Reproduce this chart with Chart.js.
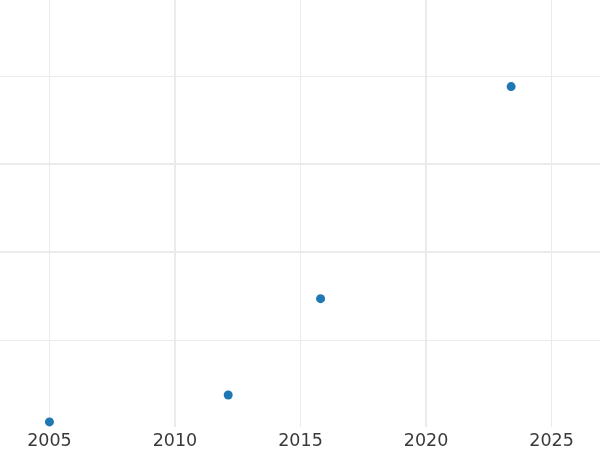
<!DOCTYPE html>
<html>
<head>
<meta charset="utf-8">
<script src="https://cdn.jsdelivr.net/npm/chart.js@4/dist/chart.umd.min.js"></script>
<style>
	html, body { margin: 0; padding: 0; background: #ffffff; }
	#chart { display: block; }
</style>
</head>
<body>
<canvas id="chart" width="600" height="450"></canvas>
<script>
// data (y in grid units, one unit per minor line)
const years = [2005.0, 2012.12, 2015.8, 2023.39];
const values = [0.07, 0.375, 1.47, 3.88];

// x ticks and which of them get the heavier grid line
const xTicks = [2005, 2010, 2015, 2020, 2025];
const xMajor = [2010, 2020];
const xRange = [2003.03, 2026.93];

// y grid lines (no labels shown)
const yTicks = [1, 2, 3, 4];
const yMajor = [2, 3];
const yRange = [0.012, 4.864];

const GRID = '#ebebeb';

function gridWidth(majors) {
	return function(ctx) {
		if (!ctx.tick) {
			return 0;
		}
		return majors.indexOf(ctx.tick.value) >= 0 ? 2 : 1;
	};
}

function keepTicks(list) {
	return function(scale) {
		scale.ticks = list.map(function(v) {
			return {value: v};
		});
	};
}

function noPadding(scale) {
	scale.paddingLeft = 0;
	scale.paddingRight = 0;
	scale.paddingTop = 0;
	scale.paddingBottom = 0;
}

const points = years.map(function(x, i) {
	return {x: x, y: values[i]};
});

new Chart(document.getElementById('chart').getContext('2d'), {
	type: 'scatter',
	data: {
		datasets: [{
			data: points,
			backgroundColor: '#1f77b4',
			borderWidth: 0,
			pointRadius: 4.5,
			pointHoverRadius: 4.5
		}]
	},
	options: {
		responsive: false,
		animation: false,
		layout: {padding: 0, autoPadding: false},
		plugins: {
			legend: {display: false},
			tooltip: {enabled: false}
		},
		scales: {
			x: {
				type: 'linear',
				min: xRange[0],
				max: xRange[1],
				afterBuildTicks: keepTicks(xTicks),
				afterFit: function(scale) {
					scale.height = 23;
					noPadding(scale);
				},
				border: {display: false},
				grid: {
					color: GRID,
					lineWidth: gridWidth(xMajor),
					drawTicks: false
				},
				ticks: {
					padding: 4,
					color: '#3a3a3a',
					font: {family: 'DejaVu Sans', size: 17.5},
					maxRotation: 0,
					callback: function(v) {
						return String(v);
					}
				}
			},
			y: {
				type: 'linear',
				min: yRange[0],
				max: yRange[1],
				afterBuildTicks: keepTicks(yTicks),
				afterFit: function(scale) {
					scale.width = 0;
					noPadding(scale);
				},
				border: {display: false},
				grid: {
					color: GRID,
					lineWidth: gridWidth(yMajor),
					drawTicks: false
				},
				ticks: {display: false}
			}
		}
	}
});
</script>
</body>
</html>
